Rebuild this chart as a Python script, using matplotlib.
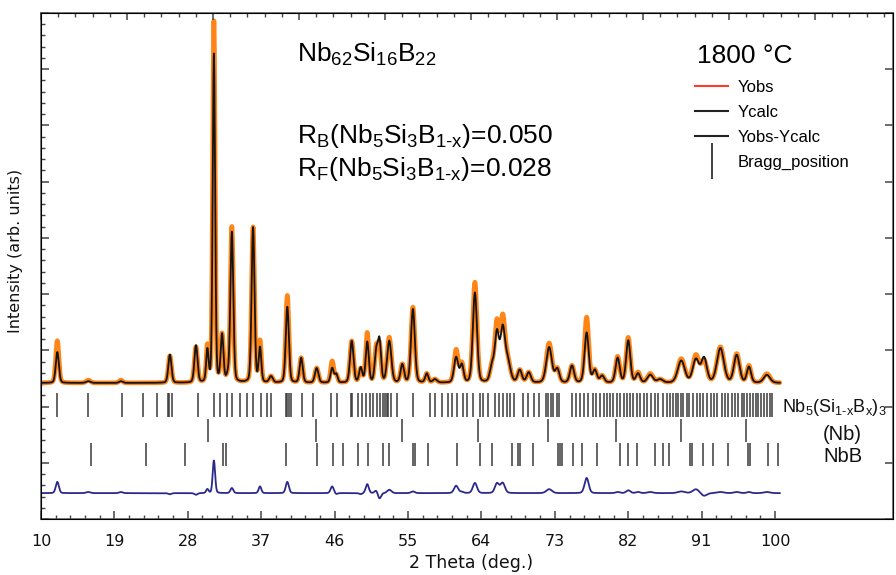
import numpy as np
import matplotlib
matplotlib.use("Agg")
import matplotlib.pyplot as plt
from matplotlib.lines import Line2D
from matplotlib.ticker import FixedLocator, NullFormatter

plt.rcParams['font.family'] = ['DejaVu Sans']
plt.rcParams['mathtext.fontset'] = 'custom'
plt.rcParams['mathtext.rm'] = 'Liberation Sans'
plt.rcParams['mathtext.it'] = 'Liberation Sans'
plt.rcParams['mathtext.bf'] = 'Liberation Sans:bold'

# ---------------- data ----------------
background = 2.42
diff_offset = 0.46

peak_pos = [12.0, 15.8, 19.8, 25.8, 29.0, 30.4, 31.2, 32.2, 32.9, 33.4, 36.0, 36.85,
            38.2, 40.2, 41.9, 43.8, 45.7, 46.2, 48.1, 49.2, 50.0, 51.1, 51.5, 52.7,
            54.3, 55.6, 57.3, 58.3, 60.9, 61.6, 63.2, 65.3, 65.9, 66.6, 67.2, 68.7,
            69.8, 72.3, 73.3, 75.1, 76.9, 77.9, 78.8, 80.7, 82.0, 83.2, 84.7, 85.9,
            88.5, 90.3, 91.3, 93.3, 95.3, 96.8, 99.0]
obs_peak = [3.17, 2.47, 2.47, 2.90, 3.05, 3.05, 8.84, 3.25, 2.52, 5.18, 5.18, 3.15,
            2.53, 3.97, 2.86, 2.68, 2.80, 2.55, 3.16, 2.66, 3.30, 3.00, 3.05, 3.22,
            2.74, 3.76, 2.58, 2.48, 3.00, 2.75, 4.20, 2.70, 3.45, 3.50, 2.80, 2.64,
            2.60, 3.12, 2.66, 2.72, 3.58, 2.64, 2.54, 2.88, 3.22, 2.60, 2.58, 2.48,
            2.84, 2.90, 2.80, 3.05, 2.93, 2.72, 2.58]
calc_peak = [2.97, 2.45, 2.45, 2.92, 3.08, 2.98, 8.26, 3.25, 2.52, 5.09, 5.18, 3.03,
             2.53, 3.77, 2.86, 2.68, 2.68, 2.57, 3.16, 2.68, 3.14, 2.95, 3.15, 3.16,
             2.74, 3.73, 2.58, 2.48, 2.87, 2.73, 4.02, 2.70, 3.28, 3.32, 2.80, 2.64,
             2.60, 3.05, 2.66, 2.72, 3.31, 2.64, 2.54, 2.86, 3.17, 2.58, 2.56, 2.48,
             2.81, 2.83, 2.85, 3.03, 2.91, 2.70, 2.56]
peak_fwhm = [0.45, 0.6, 0.5, 0.45, 0.45, 0.35, 0.35, 0.4, 0.4, 0.42, 0.42, 0.38,
             0.5, 0.45, 0.45, 0.5, 0.45, 0.4, 0.5, 0.45, 0.45, 0.45, 0.45, 0.6,
             0.5, 0.55, 0.45, 0.6, 0.6, 0.5, 0.6, 0.6, 0.6, 0.65, 0.8, 0.6,
             0.6, 0.8, 0.6, 0.6, 0.6, 0.6, 0.6, 0.6, 0.6, 0.6, 0.8, 0.8,
             1.0, 0.9, 0.8, 1.0, 0.8, 0.6, 0.9]

bragg_main = [11.92, 15.72, 19.89, 22.46, 24.26, 25.53, 25.73, 26.02, 29.21, 31.21,
              31.95, 32.77, 33.46, 34.40, 35.22, 36.03, 36.97, 37.67, 38.16, 40.04,
              40.20, 40.41, 40.61, 41.96, 43.39, 45.56, 46.25, 47.97, 48.17, 48.91,
              49.32, 49.85, 50.34, 50.75, 51.16, 51.57, 51.89, 52.18, 52.38, 52.58,
              52.88, 53.61, 55.65, 57.69, 58.31, 59.13, 59.94, 60.35, 60.96, 61.70,
              62.19, 63.01, 63.82, 64.15, 64.85, 65.66, 66.19, 66.68, 67.09, 67.50,
              67.99, 69.14, 69.75, 70.44, 71.06, 71.92, 72.20, 72.49, 72.81, 73.22,
              73.55, 75.06, 75.59, 76.08, 76.57, 77.11, 77.72, 78.05, 78.54, 79.03,
              79.35, 79.76, 80.17, 80.58, 80.99, 81.48, 81.81, 82.21, 82.62, 83.03,
              83.44, 83.93, 84.34, 84.75, 85.28, 85.69, 86.22, 86.71, 87.12, 87.53,
              87.85, 88.14, 88.43, 88.75, 89.16, 89.49, 89.98, 90.39, 90.80, 91.20,
              91.61, 92.10, 92.51, 92.92, 93.45, 93.86, 94.27, 94.68, 95.09, 95.50,
              95.90, 96.19, 96.52, 96.93, 97.33, 97.66, 97.95, 98.23, 98.64, 98.97,
              99.38, 99.58]
bragg_nb = [30.43, 43.68, 54.30, 63.62, 72.20, 80.46, 88.43, 96.39]
bragg_nbb = [16.09, 22.87, 27.70, 32.28, 32.68, 40.04, 43.80, 45.76, 46.99, 48.91,
             50.13, 51.89, 52.70, 55.57, 55.86, 57.49, 60.96, 63.82, 65.25, 67.71,
             68.52, 68.73, 70.28, 73.43, 73.63, 73.84, 75.18, 76.29, 78.13, 80.99,
             82.01, 83.03, 85.28, 86.22, 87.04, 89.57, 89.86, 91.20, 92.43, 94.27,
             96.72, 96.93, 99.17, 100.40]
bragg_rows = [(2.24, 1.82), (1.78, 1.37), (1.35, 0.94)]
phase_labels = [r'Nb$_{5}$(Si$_{\mathrm{1\text{-}x}}$B$_{\mathrm{x}}$)$_{3}$', '(Nb)', 'NbB']

x_ticks = [10, 19, 28, 37, 46, 55, 64, 73, 82, 91, 100]
x_start, x_end = 10.0, 100.6

# ---------------- build profiles ----------------
two_theta = np.arange(x_start, x_end, 0.02)


def pattern(heights):
    y = np.full_like(two_theta, background)
    for p, h, w in zip(peak_pos, heights, peak_fwhm):
        amp = max(h - background, 0.0)
        s = w / 2.3548
        g = np.exp(-0.5 * ((two_theta - p) / s) ** 2)
        lz = 1.0 / (1.0 + ((two_theta - p) / (w / 2)) ** 2)
        y += amp * (0.8 * g + 0.2 * lz)
    return y


y_obs = pattern(obs_peak)
y_calc = pattern(calc_peak)
y_diff = y_obs - y_calc + diff_offset

# ---------------- figure ----------------
fig = plt.figure(figsize=(8.96, 5.75), dpi=100)
ax = fig.add_axes([41 / 896, 56 / 575, 852 / 896, 506 / 575])

ax.plot(two_theta, y_obs, color='#ff8517', lw=3.4, solid_capstyle='round', zorder=2)
ax.plot(two_theta, y_calc, color='#141414', lw=1.3, zorder=3)
ax.plot(two_theta, y_diff, color='#2b2a8c', lw=1.3, zorder=3)

for pos_list, (top, bot) in zip([bragg_main, bragg_nb, bragg_nbb], bragg_rows):
    ax.vlines(pos_list, bot, top, color='#3a3a3a', lw=1.1)

label_y = [1.99, 1.51, 1.12]
label_x = [100.9, 108.3, 108.3]
label_ha = ['left', 'center', 'center']
label_size = [13.0, 14.5, 14.5]
for txt, lx, ly, ha, fs in zip(phase_labels, label_x, label_y, label_ha, label_size):
    ax.text(lx, ly, txt, fontsize=fs, family='Liberation Sans', ha=ha, va='center',
            clip_on=False, color='#111111')

ax.set_xlim(10, 10 + 852 / 8.156)
ax.set_ylim(0, 9)

ax.xaxis.set_major_locator(FixedLocator(x_ticks))
ax.xaxis.set_minor_locator(FixedLocator(np.arange(10, 100.01, 1.8)))
ax.yaxis.set_major_locator(FixedLocator(np.arange(0, 9.01, 1.0)))
ax.yaxis.set_minor_locator(FixedLocator(np.arange(0, 9.01, 0.2)))
ax.yaxis.set_major_formatter(NullFormatter())
ax.set_xticklabels([str(t) for t in x_ticks], fontsize=11.5, color='#111111')
ax.tick_params(axis='x', which='major', direction='in', length=6, width=1.1, pad=11,
               color='#444444')
ax.tick_params(axis='x', which='minor', direction='in', length=3, width=1.0, color='#444444')
ax.tick_params(axis='y', which='major', direction='in', length=6, width=1.1,
               color='#444444', right=True)
ax.tick_params(axis='y', which='minor', direction='in', length=3, width=1.0,
               color='#444444', right=False)
for sp in ax.spines.values():
    sp.set_color('#555555')
    sp.set_linewidth(1.1)

# top axis with its own tick spacing
axt = ax.twiny()
axt.set_xlim(0, 852 / 86.0)
axt.xaxis.set_major_locator(FixedLocator(np.arange(0, 10, 1.0)))
axt.xaxis.set_minor_locator(FixedLocator(np.arange(0, 9.9, 0.2)))
axt.xaxis.set_major_formatter(NullFormatter())
axt.tick_params(axis='x', which='major', direction='in', length=5, width=1.1, color='#444444')
axt.tick_params(axis='x', which='minor', direction='in', length=3, width=1.0, color='#444444')

ax.set_xlabel('2 Theta (deg.)', fontsize=12.5, color='#111111')
ax.xaxis.set_label_coords((471 - 41) / 852, (519 - 563) / 506)
ax.xaxis.label.set_va('center')
ax.set_ylabel('Intensity (arb. units)', fontsize=11.5, color='#111111')
ax.yaxis.set_label_coords((16 - 41) / 852, (519 - 251) / 506)
ax.yaxis.label.set_va('center')

# annotations
ax.text((297 - 41) / 852, (519 - 62) / 506, r'Nb$_{62}$Si$_{16}$B$_{22}$',
        transform=ax.transAxes, fontsize=19, family='Liberation Sans', va='baseline')
ax.text((297 - 41) / 852, (519 - 143) / 506,
        r'R$_{\mathrm{B}}$(Nb$_{5}$Si$_{3}$B$_{\mathrm{1\text{-}x}}$)=0.050',
        transform=ax.transAxes, fontsize=19, family='Liberation Sans', va='baseline')
ax.text((297 - 41) / 852, (519 - 176) / 506,
        r'R$_{\mathrm{F}}$(Nb$_{5}$Si$_{3}$B$_{\mathrm{1\text{-}x}}$)=0.028',
        transform=ax.transAxes, fontsize=19, family='Liberation Sans', va='baseline')
ax.text((697 - 41) / 852, (519 - 63) / 506, '1800 °C',
        transform=ax.transAxes, fontsize=19, family='Liberation Sans', va='baseline')

handles = [Line2D([], [], color='#ff3b30', lw=1.5),
           Line2D([], [], color='#222222', lw=1.5),
           Line2D([], [], color='#222222', lw=1.5),
           Line2D([], [], color='#333333', marker='|', markersize=26, mew=1.3, ls='None')]
leg = ax.legend(handles, ['Yobs', 'Ycalc', 'Yobs-Ycalc', 'Bragg_position'],
                loc='upper left', bbox_to_anchor=((695 - 41) / 852, (519 - 80) / 506),
                frameon=False, prop={'family': 'Liberation Sans', 'size': 12},
                handlelength=2.0, handletextpad=0.55, labelspacing=0.6, borderpad=0,
                borderaxespad=0)

fig.savefig('out.png', dpi=100)
